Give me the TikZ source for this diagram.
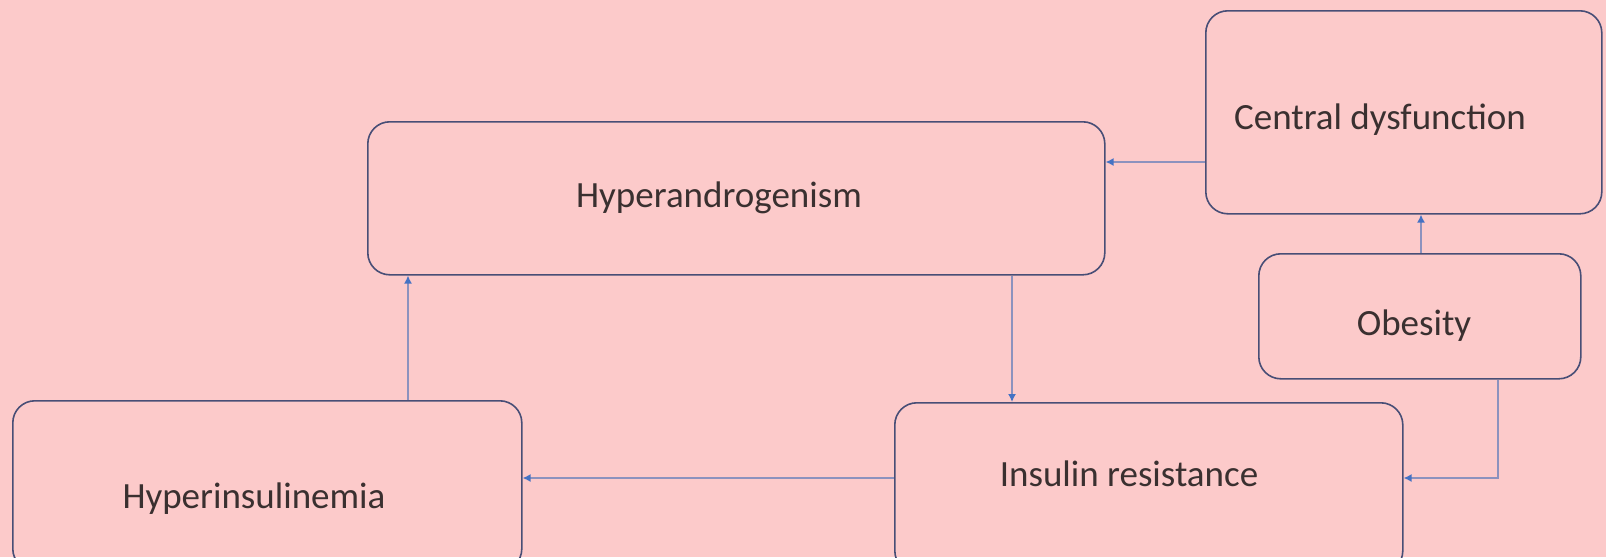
\documentclass[tikz,border=0pt]{standalone}
\usepackage{fontspec}
\setmainfont{Carlito}
\usetikzlibrary{arrows.meta}
\definecolor{bgpink}{RGB}{252,202,202}
\definecolor{boxline}{RGB}{72,78,118}
\definecolor{arrline}{RGB}{140,146,190}
\definecolor{tipblue}{RGB}{68,114,196}
\definecolor{txt}{RGB}{58,48,48}
\tikzset{
  box/.style={draw=boxline, line width=1.6pt, rounded corners=22pt, inner sep=0pt, anchor=north west},
  lbl/.style={text=txt, font=\fontsize{37}{40}\selectfont, inner sep=0pt},
  arr/.style={draw=arrline, line width=1.4pt, -{Latex[length=8pt,width=8pt,color=tipblue]}}
}
\begin{document}
\begin{tikzpicture}[x=1pt,y=-1pt]
\useasboundingbox (0,0) rectangle (1606,557);
\fill[bgpink] (0,0) rectangle (1606,557);
\clip (0,0) rectangle (1606,557);
% boxes
\node[box, minimum width=396pt, minimum height=203pt] (cd) at (1205,10) {};
\node[box, minimum width=322pt, minimum height=125pt] (ob) at (1258,253) {};
\node[box, minimum width=737pt, minimum height=153pt] (ha) at (367,121) {};
\node[box, minimum width=509pt, minimum height=170pt] (hi) at (12,400) {};
\node[box, minimum width=508pt, minimum height=170pt] (ir) at (894,402) {};
% labels
\node[lbl] (tcd) at (1380,120) {Central dysfunction};
\node[lbl] (tob) at (1414,326) {Obesity};
\node[lbl] (tha) at (719,198) {Hyperandrogenism};
\node[lbl] (thi) at (254,499) {Hyperinsulinemia};
\node[lbl] (tir) at (1129,474) {Insulin resistance};
% connectors
\draw[arr] ([xshift=396pt]hi.north west) -- ([xshift=396pt]hi.north west |- ha.south);
\draw[arr] ([xshift=645pt]ha.south west) -- ([xshift=645pt]ha.south west |- ir.north);
\draw[arr] ([yshift=-76pt]ir.north west) -- ([yshift=-76pt]ir.north west -| hi.east);
\draw[arr] ([xshift=240pt]ob.south west) |- ([yshift=-76pt]ir.north east);
\draw[arr] ([yshift=-152pt]cd.north west) -- ([yshift=-152pt]cd.north west -| ha.east);
\draw[arr] ([xshift=163pt]ob.north west) -- ([xshift=163pt]ob.north west |- cd.south);
\end{tikzpicture}
\end{document}
